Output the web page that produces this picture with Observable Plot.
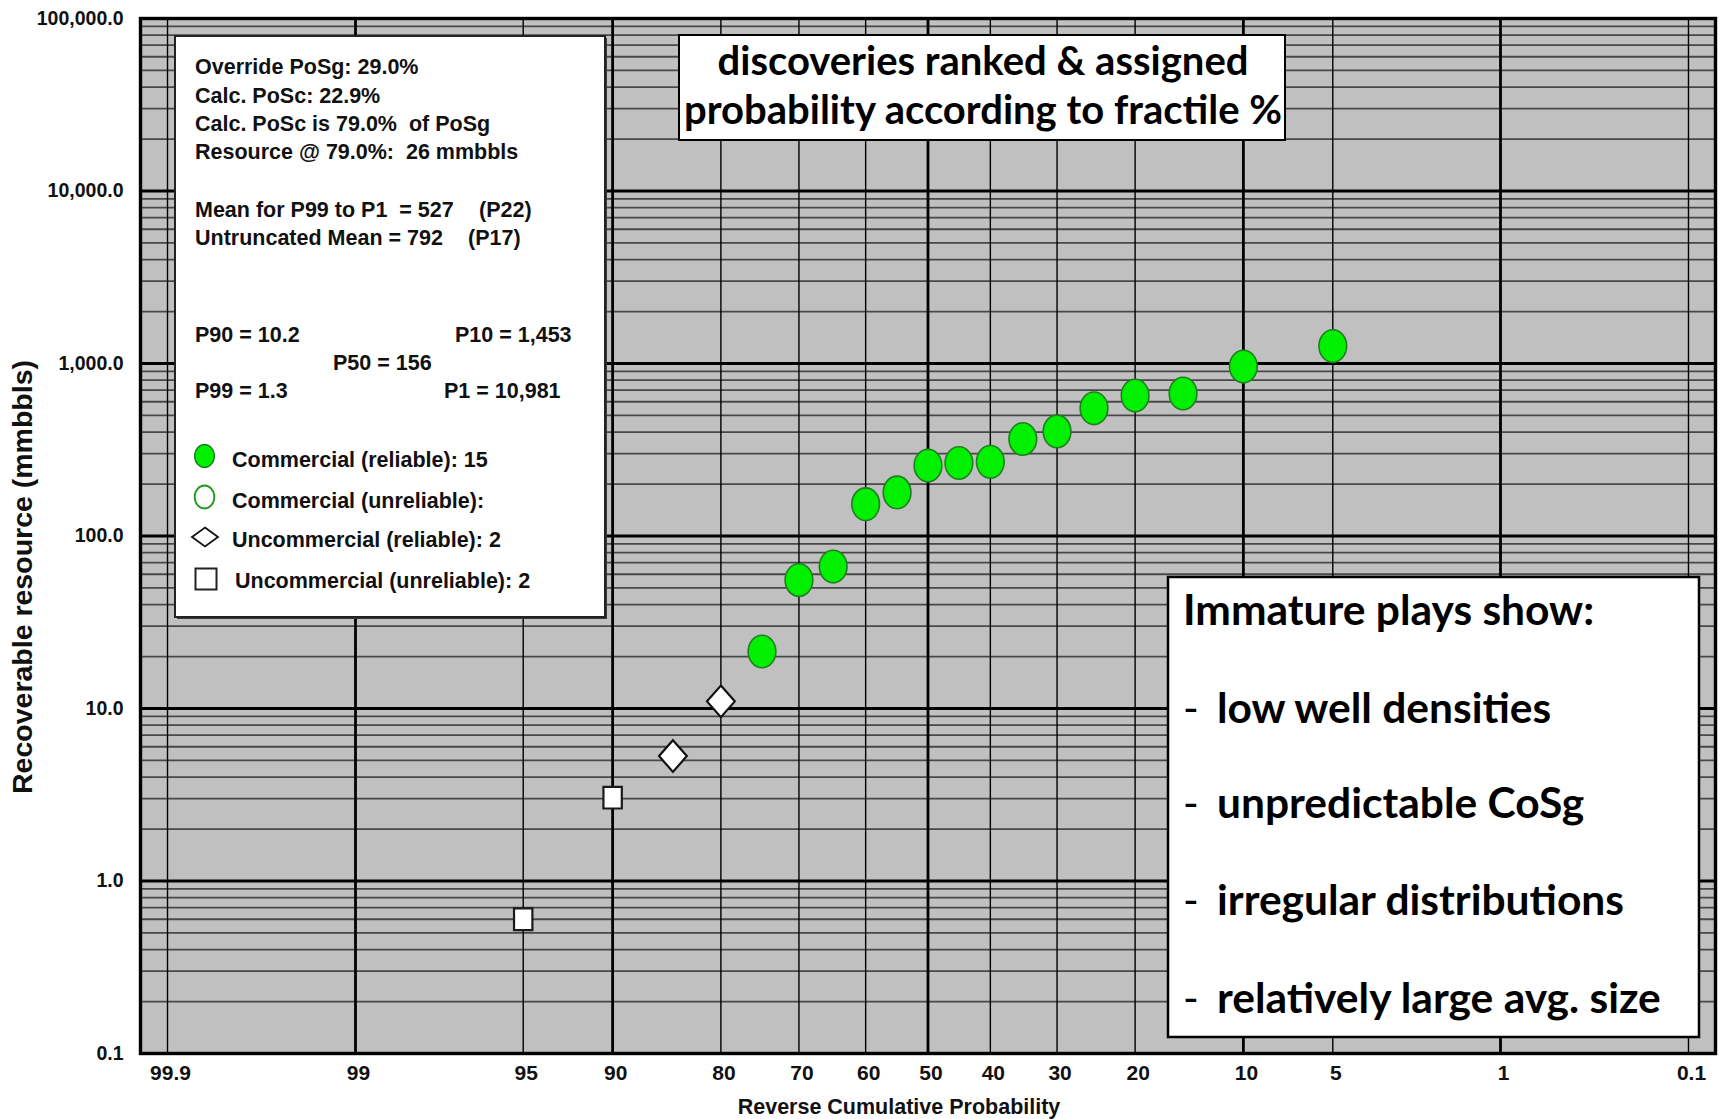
<!DOCTYPE html>
<html>
<head>
<meta charset="utf-8">
<script src="https://cdn.jsdelivr.net/npm/d3@7"></script>
<script src="https://cdn.jsdelivr.net/npm/@observablehq/plot@0.6"></script>
<style>
  html, body { margin: 0; padding: 0; background: #fff; }
  #wrap { position: relative; width: 1721px; height: 1119px; overflow: hidden; }
  #wrap > svg { position: absolute; left: 0; top: 0; }
  #overlay { pointer-events: none; }
  .arial { font-family: "Liberation Sans", Arimo, Arial, sans-serif; font-weight: bold; fill: #111; }
  .calibri { font-family: Lato, "Open Sans", sans-serif; font-weight: bold; fill: #000; }
</style>
</head>
<body>
<div id="wrap"></div>
<script>
// ---------------- DATA ----------------
// Reverse cumulative probability (%) and recoverable resource (mmbbls)
const commercialReliableP = [75, 70, 65, 60, 55, 50, 45, 40, 35, 30, 25, 20, 15, 10, 5];
const commercialReliableV = [21.4, 55.5, 66.5, 153, 179, 256, 265, 269, 365, 404, 550, 652, 670, 960, 1262];
const uncommercialReliableP = [85, 80];
const uncommercialReliableV = [5.3, 11.0];
const uncommercialUnreliableP = [95, 90];
const uncommercialUnreliableV = [0.60, 3.04];

// Axis ticks
const probTicks = [99.9, 99, 95, 90, 80, 70, 60, 50, 40, 30, 20, 10, 5, 1, 0.1];
const probTickLabels = ["99.9", "99", "95", "90", "80", "70", "60", "50", "40", "30", "20", "10", "5", "1", "0.1"];
const probMajor = [99, 90, 50, 10, 1];
const decadeTicks = [0.1, 1, 10, 100, 1000, 10000, 100000];
const minorFactors = [2, 3, 4, 5, 6, 7, 8, 9];

// Texts
const xTitle = "Reverse Cumulative Probability";
const yTitle = "Recoverable resource (mmbbls)";
const titleLines = ["discoveries ranked & assigned", "probability according to fractile %"];
const noteHead = "Immature plays show:";
const noteItems = ["low well densities", "unpredictable CoSg", "irregular distributions", "relatively large avg. size"];
const infoLines = ["Override PoSg: 29.0%", "Calc. PoSc: 22.9%", "Calc. PoSc is 79.0%\u00A0 of PoSg", "Resource @ 79.0%:\u00A0 26 mmbbls"];
const meanLines = [["Mean for P99 to P1\u00A0 = 527", "(P22)"], ["Untruncated Mean = 792", "(P17)"]];
const pLabels = ["P90 = 10.2", "P10 = 1,453", "P50 = 156", "P99 = 1.3", "P1 = 10,981"];
const legendLabels = ["Commercial (reliable): 15", "Commercial (unreliable):", "Uncommercial (reliable): 2", "Uncommercial (unreliable): 2"];

// ---------------- HELPERS ----------------
// inverse standard normal CDF (Acklam) -> probability paper axis
function probit(p) {
  const a = [-3.969683028665376e+01, 2.209460984245205e+02, -2.759285104469687e+02, 1.383577518672690e+02, -3.066479806614716e+01, 2.506628277459239e+00];
  const b = [-5.447609879822406e+01, 1.615858368580409e+02, -1.556989798598866e+02, 6.680131188771972e+01, -1.328068155288572e+01];
  const c = [-7.784894002430293e-03, -3.223964580411365e-01, -2.400758277161838e+00, -2.549732539343734e+00, 4.374664141464968e+00, 2.938163982698783e+00];
  const d = [7.784695709041462e-03, 3.224671290700398e-01, 2.445134137142996e+00, 3.754408661907416e+00];
  const pl = 0.02425, ph = 1 - pl;
  let q, r;
  if (p < pl) {
    q = Math.sqrt(-2 * Math.log(p));
    return (((((c[0]*q+c[1])*q+c[2])*q+c[3])*q+c[4])*q+c[5]) / ((((d[0]*q+d[1])*q+d[2])*q+d[3])*q+1);
  }
  if (p > ph) {
    q = Math.sqrt(-2 * Math.log(1 - p));
    return -(((((c[0]*q+c[1])*q+c[2])*q+c[3])*q+c[4])*q+c[5]) / ((((d[0]*q+d[1])*q+d[2])*q+d[3])*q+1);
  }
  q = p - 0.5; r = q * q;
  return (((((a[0]*r+a[1])*r+a[2])*r+a[3])*r+a[4])*r+a[5])*q / (((((b[0]*r+b[1])*r+b[2])*r+b[3])*r+b[4])*r+1);
}
const zOf = pct => probit(pct / 100);

function ellipseSymbol(ratio) {
  return {draw(ctx, size) {
    const r = Math.sqrt(size / Math.PI), rx = r * ratio, ry = r, k = 0.5523;
    ctx.moveTo(rx, 0);
    ctx.bezierCurveTo(rx, ry*k, rx*k, ry, 0, ry);
    ctx.bezierCurveTo(-rx*k, ry, -rx, ry*k, -rx, 0);
    ctx.bezierCurveTo(-rx, -ry*k, -rx*k, -ry, 0, -ry);
    ctx.bezierCurveTo(rx*k, -ry, rx, -ry*k, rx, 0);
    ctx.closePath();
  }};
}
function diamondSymbol(ratio) {
  return {draw(ctx, size) {
    const r = Math.sqrt(size / Math.PI);
    ctx.moveTo(0, -r); ctx.lineTo(r*ratio, 0); ctx.lineTo(0, r); ctx.lineTo(-r*ratio, 0); ctx.closePath();
  }};
}
function rectSymbol(ratio) {
  return {draw(ctx, size) {
    const r = Math.sqrt(size / Math.PI), w = r * ratio;
    ctx.moveTo(-w, -r); ctx.lineTo(w, -r); ctx.lineTo(w, r); ctx.lineTo(-w, r); ctx.closePath();
  }};
}

const toRows = (P, V) => P.map((p, i) => ({z: zOf(p), v: V[i], p}));
const greenRows = toRows(commercialReliableP, commercialReliableV);
const diamondRows = toRows(uncommercialReliableP, uncommercialReliableV);
const squareRows = toRows(uncommercialUnreliableP, uncommercialUnreliableV);

const probZ = probTicks.map(zOf);
const majorZ = probMajor.map(zOf);
const minorZ = probZ.filter(z => !majorZ.some(m => Math.abs(m - z) < 1e-9));
const minorY = decadeTicks.slice(0, -1).flatMap(d => minorFactors.map(f => d * f));
const labelForZ = z => probTickLabels[probZ.findIndex(t => Math.abs(t - z) < 1e-9)];

const FONT = '"Liberation Sans", Arimo, Arial, sans-serif';

// ---------------- CHART ----------------
const chart = Plot.plot({
  width: 1721,
  height: 1119,
  marginLeft: 140,
  marginRight: 6,
  marginTop: 18,
  marginBottom: 66,
  style: {fontFamily: FONT, fontWeight: "bold", color: "#111", background: "white", overflow: "visible"},
  x: {domain: [3.2, -3.2], axis: null},
  y: {type: "log", domain: [0.1, 100000], axis: null},
  marks: [
    Plot.frame({fill: "#c0c0c0"}),
    Plot.ruleY(minorY, {stroke: "#484848", strokeWidth: 1.8}),
    Plot.ruleX(minorZ, {stroke: "#000", strokeWidth: 1.4}),
    Plot.ruleX(majorZ, {stroke: "#000", strokeWidth: 2.8}),
    Plot.ruleY(decadeTicks, {stroke: "#000", strokeWidth: 2.8}),
    Plot.axisY({ticks: decadeTicks, tickFormat: d3.format(",.1f"), tickSize: 0, tickPadding: 17,
      fontSize: 19.5, fontWeight: "bold", fill: "#111", label: null}),
    Plot.axisX({ticks: probZ, tickFormat: labelForZ, tickSize: 0, tickPadding: 12, dx: 3,
      fontSize: 21, fontWeight: "bold", fill: "#111", label: null}),
    Plot.text([yTitle], {text: d => d, frameAnchor: "left", textAnchor: "middle", rotate: -90, dx: -118, dy: 41,
      fontSize: 28.5, fontWeight: "bold", fill: "#111"}),
    Plot.text([xTitle], {text: d => d, frameAnchor: "bottom", textAnchor: "middle", dx: -29, dy: 60,
      fontSize: 21.5, fontWeight: "bold", fill: "#111"}),
    Plot.dot(squareRows, {x: "z", y: "v", symbol: rectSymbol(0.85), r: 10.8,
      fill: "white", stroke: "#1a1a1a", strokeWidth: 2.2}),
    Plot.dot(diamondRows, {x: "z", y: "v", symbol: diamondSymbol(0.88), r: 15.8,
      fill: "white", stroke: "#111", strokeWidth: 2.2}),
    Plot.dot(greenRows, {x: "z", y: "v", symbol: ellipseSymbol(0.85), r: 16.3,
      fill: "#00f000", stroke: "#1f7f1f", strokeWidth: 1.6}),
    Plot.frame({stroke: "#000", strokeWidth: 3.4})
  ]
});
document.getElementById("wrap").appendChild(chart);

// ---------------- ANNOTATION OVERLAY ----------------
const ov = d3.select("#wrap").append("svg").attr("id", "overlay")
  .attr("width", 1721).attr("height", 1119).attr("viewBox", "0 0 1721 1119");

// info / legend box
ov.append("rect").attr("x", 177).attr("y", 38).attr("width", 430).attr("height", 581).attr("fill", "#3a3a3a");
ov.append("rect").attr("x", 175).attr("y", 36).attr("width", 430).attr("height", 581)
  .attr("fill", "#fff").attr("stroke", "#222").attr("stroke-width", 2);
const infoG = ov.append("g").attr("class", "arial").attr("font-size", 21.5);
const infoY = [74, 102.5, 131, 159];
infoLines.forEach((t, i) => infoG.append("text").attr("x", 195).attr("y", infoY[i]).text(t));
const meanY = [216.7, 244.5];
const meanX2 = [479, 468];
meanLines.forEach((pair, i) => {
  infoG.append("text").attr("x", 195).attr("y", meanY[i]).text(pair[0]);
  infoG.append("text").attr("x", meanX2[i]).attr("y", meanY[i]).text(pair[1]);
});
const pPos = [[195, 341.7], [455, 341.7], [333, 370], [195, 398.3], [444, 398.3]];
pLabels.forEach((t, i) => infoG.append("text").attr("x", pPos[i][0]).attr("y", pPos[i][1]).text(t));
const legY = [467, 508, 546.7, 587.5];
const legX = [232, 232, 232, 235];
legendLabels.forEach((t, i) => infoG.append("text").attr("x", legX[i]).attr("y", legY[i]).text(t));
// legend symbols
ov.append("ellipse").attr("cx", 204.5).attr("cy", 456).attr("rx", 9.8).attr("ry", 11.5)
  .attr("fill", "#00f000").attr("stroke", "#1f7f1f").attr("stroke-width", 1.5);
ov.append("ellipse").attr("cx", 204.5).attr("cy", 497).attr("rx", 9.8).attr("ry", 11.5)
  .attr("fill", "#fff").attr("stroke", "#1f9a1f").attr("stroke-width", 1.8);
ov.append("path").attr("d", "M205,527.5 L218,537 L205,546.5 L192,537 Z")
  .attr("fill", "#fff").attr("stroke", "#111").attr("stroke-width", 1.8);
ov.append("rect").attr("x", 195.5).attr("y", 568.5).attr("width", 21).attr("height", 21)
  .attr("fill", "#fff").attr("stroke", "#222").attr("stroke-width", 2);

// title box
ov.append("rect").attr("x", 679).attr("y", 35).attr("width", 606).attr("height", 105)
  .attr("fill", "#fff").attr("stroke", "#000").attr("stroke-width", 2);
const titleG = ov.append("g").attr("class", "calibri").attr("font-size", 40).attr("text-anchor", "middle");
const titleY = [75, 124];
titleLines.forEach((t, i) => titleG.append("text").attr("x", 983).attr("y", titleY[i]).text(t));

// note box
ov.append("rect").attr("x", 1168).attr("y", 577).attr("width", 531).attr("height", 460)
  .attr("fill", "#fff").attr("stroke", "#000").attr("stroke-width", 2.5);
const noteG = ov.append("g").attr("class", "calibri").attr("font-size", 42.5);
noteG.append("text").attr("x", 1183).attr("y", 625).text(noteHead);
const noteY = [723, 818, 915, 1013];
noteItems.forEach((t, i) => {
  noteG.append("text").attr("x", 1183).attr("y", noteY[i]).attr("font-weight", "normal").text("-");
  noteG.append("text").attr("x", 1217).attr("y", noteY[i]).text(t);
});
</script>
</body>
</html>
